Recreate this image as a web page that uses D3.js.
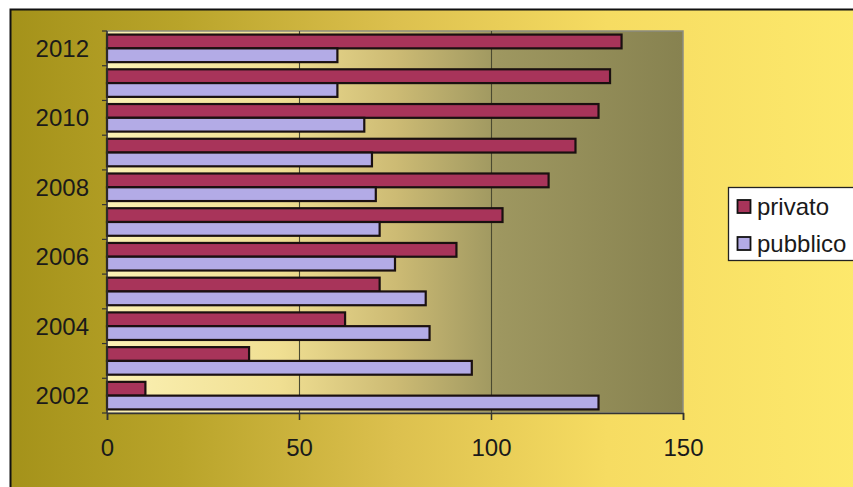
<!DOCTYPE html>
<html>
<head>
<meta charset="utf-8">
<script src="https://cdn.jsdelivr.net/npm/d3@7"></script>
<style>
  html, body { margin: 0; padding: 0; background: #ffffff; }
  svg { display: block; }
  text { font-family: "Liberation Sans", Arial, sans-serif; }
</style>
</head>
<body>
<svg id="chart" width="853" height="487"></svg>
<script>
// Years on the category axis (bottom to top)
const years = [2002, 2003, 2004, 2005, 2006, 2007, 2008, 2009, 2010, 2011, 2012];
// Labelled years on the category axis
const yearLabels = [2002, 2004, 2006, 2008, 2010, 2012];
// Series values per year
const privato  = [10, 37, 62, 71, 91, 103, 115, 122, 128, 131, 134];
const pubblico = [128, 95, 84, 83, 75, 71, 70, 69, 67, 60, 60];
const seriesNames = ["privato", "pubblico"];
const xTicks = [0, 50, 100, 150];

const W = 853, H = 487;
const plot = { left: 107, top: 31, right: 683, bottom: 413 };
const colors = { privato: "#a8345a", pubblico: "#b3abe6" };
const FONT = 24;

const svg = d3.select("#chart");
const defs = svg.append("defs");

// Chart area background: dark gold on the left to bright yellow on the right
const bg = defs.append("linearGradient").attr("id", "bgGrad")
  .attr("x1", "0").attr("y1", "0").attr("x2", "1").attr("y2", "0");
[["0%", "#a4921a"], ["20%", "#b9a42a"], ["45%", "#dcc04e"], ["70%", "#f6dc62"], ["100%", "#fde96c"]]
  .forEach(([o, c]) => bg.append("stop").attr("offset", o).attr("stop-color", c));

// Plot area background: pale cream to olive
const pg = defs.append("linearGradient").attr("id", "plotGrad")
  .attr("x1", "0").attr("y1", "0").attr("x2", "1").attr("y2", "0");
[["0%", "#fbf1b4"], ["30%", "#f0df92"], ["50%", "#cdbb74"], ["68%", "#9e9760"], ["100%", "#878250"]]
  .forEach(([o, c]) => pg.append("stop").attr("offset", o).attr("stop-color", c));

// Outer chart area with its border
svg.append("rect").attr("x", 10.5).attr("y", 9.5).attr("width", W).attr("height", H)
  .attr("fill", "url(#bgGrad)").attr("stroke", "#111").attr("stroke-width", 2);

// Scales
const x = d3.scaleLinear().domain([0, 150]).range([plot.left, plot.right]);
const y = d3.scaleBand().domain(years.slice().reverse()).range([plot.top, plot.bottom]).paddingInner(0).paddingOuter(0);
const inner = d3.scaleBand().domain(seriesNames).range([0, y.bandwidth()]).paddingOuter(0.26).paddingInner(0);

// Plot area
svg.append("rect").attr("x", plot.left).attr("y", plot.top)
  .attr("width", plot.right - plot.left).attr("height", plot.bottom - plot.top)
  .attr("fill", "url(#plotGrad)").attr("stroke", "#8c8c80").attr("stroke-width", 1.5);

// Vertical gridlines
svg.append("g").selectAll("line").data(xTicks.filter(d => d > 0 && d < 150)).join("line")
  .attr("x1", d => x(d) + 0.5).attr("x2", d => x(d) + 0.5)
  .attr("y1", plot.top).attr("y2", plot.bottom)
  .attr("stroke", "#4a4a30").attr("stroke-width", 1.1);

// Bars
const rows = years.map((yr, i) => ({ year: yr, privato: privato[i], pubblico: pubblico[i] }));
const groups = svg.append("g").selectAll("g").data(rows).join("g")
  .attr("transform", d => `translate(0,${y(d.year)})`);
groups.selectAll("rect").data(d => seriesNames.map(k => ({ key: k, value: d[k] }))).join("rect")
  .attr("x", x(0))
  .attr("y", d => inner(d.key))
  .attr("width", d => x(d.value) - x(0))
  .attr("height", inner.bandwidth())
  .attr("fill", d => colors[d.key])
  .attr("stroke", "#1a1010").attr("stroke-width", 2.2);

// X axis
const xAxis = svg.append("g").attr("transform", `translate(0,${plot.bottom})`)
  .call(d3.axisBottom(x).tickValues(xTicks).tickSize(7).tickPadding(19).tickFormat(d3.format("d")));
xAxis.select(".domain").attr("stroke", "#333").attr("stroke-width", 1.5);
xAxis.selectAll(".tick line").attr("stroke", "#333").attr("stroke-width", 1.5);
xAxis.selectAll("text").attr("font-size", FONT).attr("fill", "#1a1a1a")
  .attr("font-family", "Liberation Sans, Arial, sans-serif");

// Y axis: ticks at category boundaries, labels on every other year
const yAxisG = svg.append("g").attr("transform", `translate(${plot.left},0)`);
yAxisG.append("line").attr("x1", 0).attr("x2", 0).attr("y1", plot.top).attr("y2", plot.bottom)
  .attr("stroke", "#333").attr("stroke-width", 1.5);
const bounds = years.map(yr => y(yr)).concat([plot.bottom]);
yAxisG.selectAll("line.tk").data(bounds).join("line").attr("class", "tk")
  .attr("x1", -5).attr("x2", 0).attr("y1", d => d).attr("y2", d => d)
  .attr("stroke", "#333").attr("stroke-width", 1.2);
yAxisG.selectAll("text").data(yearLabels).join("text")
  .attr("x", -18).attr("y", d => y(d) + y.bandwidth() / 2)
  .attr("dy", "0.35em").attr("text-anchor", "end")
  .attr("font-size", FONT).attr("fill", "#1a1a1a")
  .text(d => d);

// Legend
const lg = svg.append("g");
lg.append("rect").attr("x", 728.5).attr("y", 187.5).attr("width", 130).attr("height", 73)
  .attr("fill", "#ffffff").attr("stroke", "#222").attr("stroke-width", 1.3);
const items = lg.selectAll("g").data(seriesNames).join("g")
  .attr("transform", (d, i) => `translate(737,${207 + i * 37})`);
items.append("rect").attr("x", 0.5).attr("y", -7).attr("width", 13).attr("height", 13)
  .attr("fill", d => colors[d]).attr("stroke", "#111").attr("stroke-width", 1.8);
items.append("text").attr("x", 20).attr("y", 0).attr("dy", "0.35em")
  .attr("font-size", FONT).attr("fill", "#1a1a1a").text(d => d);
</script>
</body>
</html>
